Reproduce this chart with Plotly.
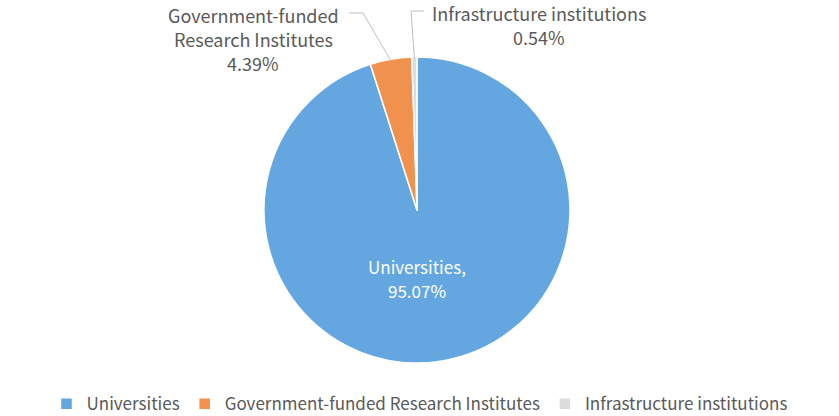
import math
import plotly.graph_objects as go

labels = ["Universities", "Government-funded Research Institutes", "Infrastructure institutions"]
values = [95.07, 4.39, 0.54]
colors = ["#64A6E0", "#F0914D", "#DCDCDC"]

W, H = 839, 416
CX, CY, R = 417, 210, 153
TXT = "#595959"
FONT = "Noto Sans CJK KR"

fig = go.Figure()
fig.add_trace(go.Pie(
    labels=labels, values=values, sort=False, direction="clockwise", rotation=0,
    marker=dict(colors=colors, line=dict(color="white", width=1.5)),
    textinfo="none", hoverinfo="label+percent",
    domain=dict(x=[(CX - R) / W, (CX + R) / W], y=[1 - (CY + R) / H, 1 - (CY - R) / H]),
))

def px(x):
    return x / W

def py(y):
    return 1 - y / H

total = sum(values)
cum = 0
mids = []
for v in values:
    mids.append((cum + v / 2) / total * 2 * math.pi)
    cum += v

def edge(i, rr=R):
    a = mids[i]
    return CX + rr * math.sin(a), CY - rr * math.cos(a)

annotations = []
shapes = []

def label(x, y0, lines, color=TXT, size=18, gap=24):
    for k, t in enumerate(lines):
        annotations.append(dict(x=px(x), y=py(y0 + k * gap), xref="paper", yref="paper",
                                xanchor="center", yanchor="middle", text=t,
                                showarrow=False, font=dict(color=color, size=size, family=FONT)))

# Universities inside label
label(417, 266, [f"{labels[0]},", f"{values[0]:.2f}%"], color="white", size=17)

# Government label
label(253, 15, ["Government-funded", "Research Institutes", f"{values[1]:.2f}%"])
ex, ey = edge(1, R - 2)
shapes.append(dict(type="path", xref="paper", yref="paper",
                   path=f"M {px(349)} {py(13)} L {px(363)} {py(13)} L {px(ex)} {py(ey)}",
                   line=dict(color="#BFBFBF", width=1)))

# Infrastructure label
label(539, 13, [labels[2], f"{values[2]:.2f}%"], gap=24)
ex, ey = edge(2, R - 2)
shapes.append(dict(type="path", xref="paper", yref="paper",
                   path=f"M {px(424)} {py(11)} L {px(411)} {py(11)} L {px(ex)} {py(ey)}",
                   line=dict(color="#BFBFBF", width=1)))

fig.update_layout(
    width=W, height=H, margin=dict(l=0, r=0, t=0, b=0, autoexpand=False),
    paper_bgcolor="white", plot_bgcolor="white",
    font=dict(family=FONT, color=TXT, size=16),
    showlegend=True,
    legend=dict(orientation="h", x=0.5, xanchor="center", y=-0.015, yanchor="bottom",
                font=dict(size=17, color=TXT, family=FONT), itemwidth=30,
                traceorder="normal"),
    annotations=annotations, shapes=shapes,
)

fig.write_html("out.html")
